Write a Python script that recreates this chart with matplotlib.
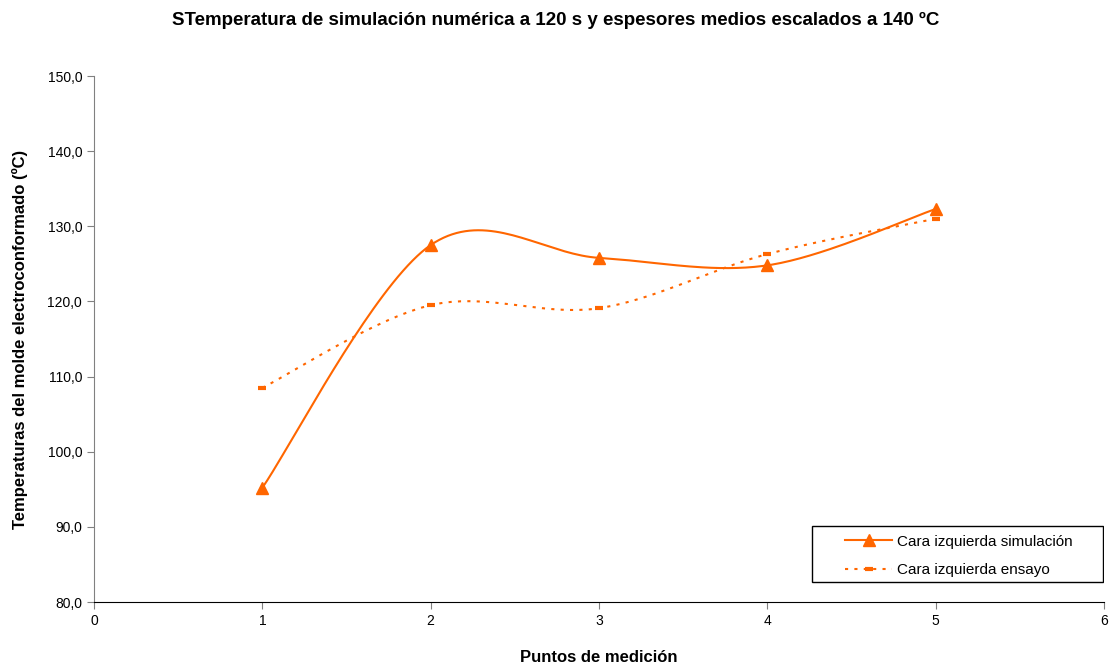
import numpy as np
import matplotlib
matplotlib.use('Agg')
import matplotlib.pyplot as plt
from matplotlib.patches import Rectangle

plt.rcParams['font.family'] = ['Liberation Sans', 'DejaVu Sans']

puntos = [1, 2, 3, 4, 5]
simulacion = [95.2, 127.5, 125.8, 124.8, 132.3]
ensayo = [108.5, 119.5, 119.1, 126.3, 131.0]
x_ticks = [0, 1, 2, 3, 4, 5, 6]
y_ticks = [80, 90, 100, 110, 120, 130, 140, 150]

ORANGE = '#FF6600'


def excel_smooth(xs, ys, n=40):
    # Excel-style smoothed line: cubic Bezier with Catmull-Rom control points
    p = np.column_stack([xs, ys]).astype(float)
    out = [p[0]]
    t = np.linspace(0, 1, n)[1:, None]
    for i in range(len(p) - 1):
        p0 = p[i - 1] if i > 0 else p[i]
        p3 = p[i + 2] if i + 2 < len(p) else p[i + 1]
        c1 = p[i] + (p[i + 1] - p0) / 6
        c2 = p[i + 1] - (p3 - p[i]) / 6
        seg = ((1 - t)**3 * p[i] + 3 * (1 - t)**2 * t * c1
               + 3 * (1 - t) * t**2 * c2 + t**3 * p[i + 1])
        out.extend(seg)
    out = np.array(out)
    return out[:, 0], out[:, 1]


fig = plt.figure(figsize=(11.12, 6.69), dpi=100)
ax = fig.add_axes([94 / 1112, 1 - 602 / 669, 1010 / 1112, 526 / 669])

sx, sy = excel_smooth(puntos, simulacion)
ex, ey = excel_smooth(puntos, ensayo)

ax.plot(sx, sy, color=ORANGE, lw=1.5)
ax.plot(puntos, simulacion, ls='none', marker='^', ms=8, color=ORANGE)
ax.plot(ex, ey, color=ORANGE, lw=1.5, ls=(0, (1.5, 3)))
ax.plot(puntos, ensayo, ls='none', marker='_', ms=6, mew=3, color=ORANGE)

# legend box drawn separately (Excel pads it more on the left)
ax.add_patch(Rectangle((0.711, 0.038), 0.288, 0.1065, transform=ax.transAxes,
                       facecolor='white', edgecolor='black', lw=1.0, zorder=4))
h1, = ax.plot([], [], color=ORANGE, lw=1.5, marker='^', ms=8)
h2, = ax.plot([], [], color=ORANGE, lw=1.5, ls=(0, (1.5, 3)), marker='_', ms=6, mew=3)
leg = ax.legend([h1, h2], ['Cara izquierda simulación', 'Cara izquierda ensayo'],
                loc='lower left', bbox_to_anchor=(0.7436, 0.047), fontsize=11,
                frameon=False, handlelength=3.1, handletextpad=0.3, borderpad=0.0,
                labelspacing=0.95, borderaxespad=0.0)
leg.set_zorder(5)

ax.set_xlim(0, 6)
ax.set_ylim(80, 150)
ax.set_xticks(x_ticks)
ax.set_yticks(y_ticks)
ax.set_yticklabels([f'{v:.1f}'.replace('.', ',') for v in y_ticks])
ax.tick_params(labelsize=10, direction='out', length=5, color='#808080')
ax.spines['top'].set_visible(False)
ax.spines['right'].set_visible(False)
ax.spines['left'].set_color('#808080')
ax.spines['bottom'].set_color('black')

ax.set_xlabel('Puntos de medición', fontsize=12, fontweight='bold', labelpad=16)
ax.set_ylabel('Temperaturas del molde electroconformado (ºC)', fontsize=12,
              fontweight='bold', labelpad=14)
fig.text(0.5, 1 - 20 / 669, 'STemperatura de simulación numérica a 120 s y espesores medios escalados a 140 ºC',
         ha='center', va='center', fontsize=13.5, fontweight='bold')

fig.savefig('out.png', dpi=100)
